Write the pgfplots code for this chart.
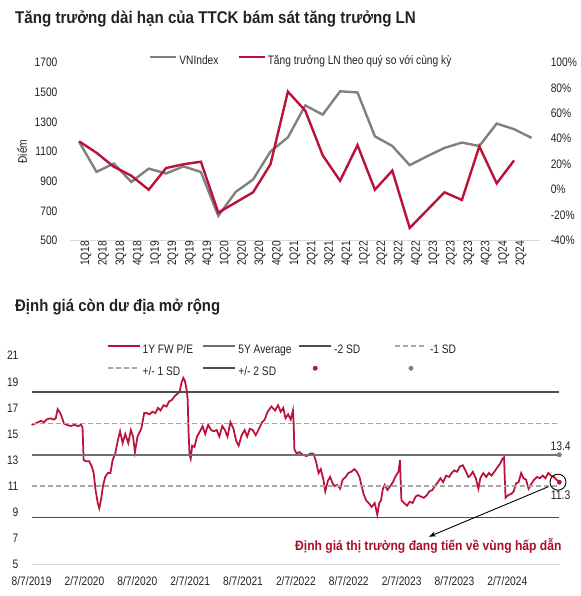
\documentclass[border=0pt]{standalone}
\usepackage{fontspec}
\setmainfont{Liberation Sans}[FakeStretch=0.83, BoldFeatures={FakeStretch=0.89}]
\usepackage{pgfplots}
\pgfplotsset{compat=1.18}
\usepackage{pgfplotstable}
\usetikzlibrary{arrows.meta}
\definecolor{crim}{HTML}{BA1238}
\definecolor{vngray}{HTML}{808080}
\definecolor{darkl}{HTML}{4D4D4D}
\definecolor{midl}{HTML}{707070}
\definecolor{dashl}{HTML}{A6A6A6}
\definecolor{axisl}{HTML}{D9D9D9}
\definecolor{annot}{HTML}{A8102C}
\definecolor{txt}{HTML}{222222}
\pgfplotsset{
  toplegline/.style={legend image code/.code={\draw[##1] (0pt,3.5pt) -- (26pt,3.5pt);}},
  botlegline/.style={legend image code/.code={\draw[##1, line width=2pt] (0pt,3.8pt) -- (32pt,3.8pt);}},
  dotleg/.style={legend image code/.code={\draw[##1] plot coordinates {(16pt,3.8pt)};}},
}

\pgfplotstableread{
q vn
0 1166
1 963
2 1019
3 895
4 985
5 952
6 1000
7 962
8 667
9 828
10 912
11 1100
12 1195
13 1410
14 1348
15 1505
16 1497
17 1202
18 1137
19 1008
20 1068
21 1124
22 1160
23 1137
24 1288
25 1250
26 1192
}\vntable

\pgfplotstableread{
q g
0 38
1 29
2 18
3 11
4 0
5 17
6 20
7 22
8 -18
9 -10
10 -2
11 20
12 77
13 62
14 27
15 7
16 35
17 0
18 15
19 -30
20 -16
21 -2
22 -8
23 34
24 5
25 23
}\lntable

\pgfplotstableread{
zx pe
85 15.7
95 15.8
110 16.0
118 15.9
125 16.1
135 16.2
145 16.1
150 16.2
155 16.9
160 16.7
165 16.4
172 15.8
180 15.7
190 15.6
200 15.7
210 15.6
218 15.7
222 15.5
225 13.0
232 12.9
240 12.9
247 12.5
252 12.0
257 10.7
263 9.7
267 9.3
272 10.0
277 11.0
283 11.7
290 12.0
297 12.0
303 13.0
310 13.5
317 14.5
323 15.2
330 14.3
337 15.0
345 14.3
352 15.3
358 14.8
363 13.6
370 14.8
380 15.4
388 16.6
395 16.6
402 16.5
410 16.7
418 16.6
425 17.0
432 16.8
440 17.2
448 17.1
455 17.5
462 17.6
470 17.9
478 18.1
483 18.2
488 18.9
493 19.3
497 19.1
502 18.4
505 17.6
507 15.3
510 13.4
513 13.1
517 14.1
523 14.0
530 14.8
538 15.2
545 15.6
552 15.0
560 15.7
568 15.3
575 15.2
583 15.3
590 14.8
598 15.6
605 15.3
612 14.8
620 15.9
628 15.4
635 14.5
642 14.1
650 14.9
658 15.3
665 14.8
672 15.4
680 15.3
688 14.9
695 15.3
705 15.9
712 16.1
720 16.7
730 17.1
740 16.8
748 17.2
755 16.7
762 17.0
768 16.2
775 16.5
782 16.1
788 16.8
790 15.8
792 13.8
798 13.5
805 13.6
815 13.4
825 13.3
835 13.5
843 13.5
850 12.9
857 12.0
863 12.3
870 11.5
875 10.6
882 11.4
888 11.7
895 11.2
900 11.0
907 11.1
915 10.8
922 11.5
930 11.7
937 12.0
945 12.1
953 12.3
960 12.1
967 11.7
973 11.0
978 10.4
985 9.9
992 9.7
1000 9.4
1008 9.7
1015 8.8
1020 9.7
1025 9.9
1030 10.8
1035 11.1
1042 10.7
1050 11.0
1057 11.3
1065 11.8
1072 12.1
1076 13.0
1078 11.2
1080 9.9
1087 9.7
1095 9.5
1102 9.8
1110 9.7
1118 10.2
1125 10.3
1132 10.2
1140 10.1
1148 10.3
1155 10.6
1163 10.7
1170 11.0
1178 11.3
1185 11.6
1192 11.3
1200 11.8
1208 11.7
1215 12.0
1222 12.2
1230 12.1
1237 12.5
1245 12.6
1252 12.2
1260 11.7
1265 11.8
1272 12.1
1280 11.6
1287 10.8
1292 11.6
1300 12.0
1308 11.7
1315 12.0
1322 11.8
1330 12.1
1337 12.4
1345 12.7
1352 13.1
1356 13.2
1358 11.5
1360 10.1
1367 10.3
1375 10.4
1382 10.6
1388 11.2
1395 11.3
1402 12.0
1408 11.6
1415 11.5
1422 10.8
1430 11.2
1437 11.5
1445 11.7
1452 11.6
1460 11.8
1467 11.6
1475 12.0
1482 11.8
1490 11.7
1497 11.5
1505 11.3
}\petable

\pgfplotstableread{
x y
0 13.4
59.9 13.4
}\avgtable
\pgfplotstableread{
x y
0 8.6
59.9 8.6
}\mtwotable
\pgfplotstableread{
x y
0 11.0
59.9 11.0
}\monetable
\pgfplotstableread{
x y
0 15.8
59.9 15.8
}\ponetable
\pgfplotstableread{
x y
0 18.2
59.9 18.2
}\ptwotable

\begin{document}
\begin{tikzpicture}[x=1pt,y=1pt]
\useasboundingbox (0,0) rectangle (580,-596);
\def\tfont{\fontsize{12.3}{14}\selectfont}

% ---------- titles ----------
\node[anchor=west, inner sep=0pt, text=txt, font=\bfseries\fontsize{17}{20}\selectfont] at (15,-18.5) {Tăng trưởng dài hạn của TTCK bám sát tăng trưởng LN};
\node[anchor=west, inner sep=0pt, text=txt, font=\bfseries\fontsize{16.8}{20}\selectfont] at (15,-306.7) {Định giá còn dư địa mở rộng};
\node[rotate=90, inner sep=0pt, text=txt, font=\tfont] at (22,-151.7) {Điểm};

% ---------- top chart, left axis ----------
\begin{axis}[
  at={(70.4pt,-240.7pt)}, anchor=south west, scale only axis,
  width=469.8pt, height=178.4pt,
  xmin=-0.5, xmax=26.5, ymin=500, ymax=1700,
  ytick={500,700,...,1700},
  xtick={0,...,25},
  xticklabels={1Q18,2Q18,3Q18,4Q18,1Q19,2Q19,3Q19,4Q19,1Q20,2Q20,3Q20,4Q20,1Q21,2Q21,3Q21,4Q21,1Q22,2Q22,3Q22,4Q22,1Q23,2Q23,3Q23,4Q23,1Q24,2Q24},
  axis x line*=bottom, axis y line*=left,
  x axis line style={draw=axisl, line width=1pt, -},
  y axis line style={draw=none},
  major tick length=0pt, tick style={draw=none},
  /pgf/number format/assume math mode=true,
  /pgf/number format/set thousands separator={},
  ticklabel style={font=\tfont, text=txt},
  xticklabel style={rotate=90, anchor=east, inner sep=0pt, yshift=-7pt},
  yticklabel style={anchor=east, inner sep=0pt, xshift=-12.8pt},
  legend columns=2,
  legend style={draw=none, fill=none, inner sep=0pt, outer sep=0pt,
    at={(rel axis cs:0.1672,1.01)}, anchor=west,
    nodes={inner xsep=2pt, inner ysep=0pt, font=\tfont, text=txt}},
  toplegline,
]
\addplot[vngray, line width=2.4pt] table[x=q, y=vn] {\vntable};
\addlegendentry{\makebox[56pt][l]{VNIndex}}
\addlegendimage{crim, line width=2.4pt}
\addlegendentry{Tăng trưởng LN theo quý so với cùng kỳ}
\end{axis}

% ---------- top chart, right axis ----------
\begin{axis}[
  at={(70.4pt,-240.7pt)}, anchor=south west, scale only axis,
  width=469.8pt, height=178.4pt,
  xmin=-0.5, xmax=26.5, ymin=-40, ymax=100,
  ytick={-40,-20,...,100},
  yticklabels={-40\%,-20\%,0\%,20\%,40\%,60\%,80\%,100\%},
  hide x axis,
  axis y line*=right,
  y axis line style={draw=none},
  major tick length=0pt, tick style={draw=none},
  ticklabel style={font=\tfont, text=txt},
  yticklabel style={anchor=west, inner sep=0pt, xshift=10.4pt},
]
\addplot[crim, line width=2.4pt] table[x=q, y=g] {\lntable};
\end{axis}

% ---------- bottom chart ----------
\begin{axis}[
  at={(31.6pt,-564.3pt)}, anchor=south west, scale only axis,
  width=528.6pt, height=208.6pt,
  xmin=0, xmax=60, ymin=5, ymax=21,
  ytick={5,7,...,21},
  xtick={0,6,...,54},
  xticklabels={8/7/2019,2/7/2020,8/7/2020,2/7/2021,8/7/2021,2/7/2022,8/7/2022,2/7/2023,8/7/2023,2/7/2024},
  axis x line*=bottom, axis y line*=left,
  x axis line style={draw=axisl, line width=1pt, -},
  y axis line style={draw=none},
  major tick length=0pt, tick style={draw=none},
  /pgf/number format/assume math mode=true,
  ticklabel style={font=\tfont, text=txt},
  xticklabel style={anchor=north, inner sep=0pt, yshift=-12pt},
  yticklabel style={anchor=east, inner sep=0pt, xshift=-13pt},
  clip=false,
  legend columns=4,
  legend style={draw=none, fill=none, inner sep=0pt, outer sep=0pt,
    at={(rel axis cs:0.1419,0.9746)}, anchor=west,
    row sep=10pt,
    nodes={inner xsep=2pt, inner ysep=0pt, text height=9pt, text depth=3pt, font=\tfont, text=txt}},
  botlegline,
]
\addplot[crim, line width=1.75pt] table[x expr={(\thisrow{zx}-85)/23.7}, y=pe] {\petable};
\addlegendentry{\makebox[57.8pt][l]{1Y FW P/E}}
\addplot[midl, line width=1.6pt] table {\avgtable};
\addlegendentry{\makebox[57.8pt][l]{5Y Average}}
\addplot[darkl, line width=1.6pt] table {\mtwotable};
\addlegendentry{\makebox[57.8pt][l]{-2 SD}}
\addplot[dashl, line width=1.3pt, dash pattern=on 5pt off 3pt] table {\monetable};
\addlegendentry{\makebox[57.8pt][l]{-1 SD}}
\addplot[dashl, line width=1.3pt, dash pattern=on 5pt off 3pt] table {\ponetable};
\addlegendentry{\makebox[57.8pt][l]{+/- 1 SD}}
\addplot[darkl, line width=1.6pt] table {\ptwotable};
\addlegendentry{\makebox[57.8pt][l]{+/- 2 SD}}
\addplot[only marks, mark=*, mark size=2.2pt, crim, dotleg]
  coordinates {(59.9,11.3)};
\addlegendentry{\makebox[57.8pt][l]{}}
\addplot[only marks, mark=*, mark size=2.2pt, vngray, dotleg]
  coordinates {(59.9,13.4)};
\addlegendentry{\makebox[57.8pt][l]{}}

\node[anchor=south, inner sep=0pt, font=\fontsize{12.5}{14}\selectfont, text=txt] at (axis cs:60.05,13.4) [yshift=4pt] {13.4};
\node[anchor=north, inner sep=0pt, font=\fontsize{12.5}{14}\selectfont, text=txt] at (axis cs:60.05,11.3) [yshift=-8pt] {11.3};
\draw[black, line width=0.9pt] (axis cs:59.75,11.3) circle[radius=8pt];
\draw[black, line width=0.9pt, -{Stealth[length=7pt,width=5pt]}] (axis cs:58.65,10.95) -- (axis cs:45.1,7.12);
\node[inner sep=0pt, text=annot, font=\bfseries\fontsize{13.6}{16}\selectfont] at (axis cs:45.03,6.41) {Định giá thị trường đang tiến về vùng hấp dẫn};
\end{axis}
\end{tikzpicture}
\end{document}
